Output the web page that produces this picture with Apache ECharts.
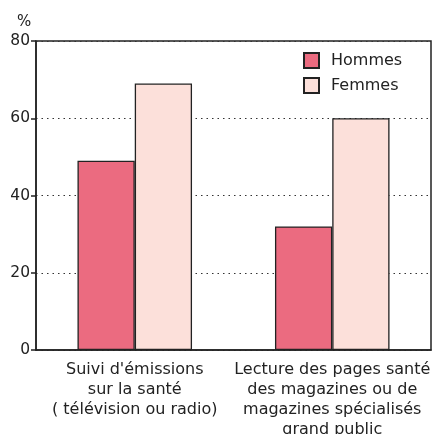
<!DOCTYPE html>
<html>
<head>
<meta charset="utf-8">
<script src="https://cdn.jsdelivr.net/npm/echarts@6/dist/echarts.min.js"></script>
<style>
	html, body { margin: 0; padding: 0; background: #fff; }
	#chart { width: 432px; height: 434px; }
</style>
</head>
<body>
<div id="chart"></div>
<script>
var categories = [
	"Suivi d'émissions\nsur la santé\n( télévision ou radio)",
	"Lecture des pages santé\ndes magazines ou de\nmagazines spécialisés\ngrand public"
];
var seriesNames = ['Hommes', 'Femmes'];
var hommes = [49, 32];
var femmes = [69, 60];
var yTicks = [0, 20, 40, 60, 80];

var colors = ['#eb6b80', '#fce0da'];
var font = 'DejaVu Sans';

var myChart = echarts.init(document.getElementById('chart'));

function barSeries(name, values, color) {
	return {
		name : name,
		type : 'bar',
		data : values,
		barGap : '0%',
		barCategoryGap : '42%',
		itemStyle : {
			color : color,
			borderColor : '#222',
			borderWidth : 1.3
		}
	};
}

var chartOption = {
	animation : false,
	textStyle : { fontFamily : font },
	grid : {
		left : 36, right : 1, top : 41, bottom : 84,
		outerBoundsMode : 'none',
		containLabel : false,
		show : true,
		borderColor : '#222',
		borderWidth : 1.5
	},
	title : {
		text : '%',
		left : 12, top : 10,
		textStyle : { fontSize : 15, fontWeight : 'normal', color : '#222', fontFamily : font }
	},
	legend : {
		orient : 'vertical',
		left : 303, top : 52,
		padding : 0,
		icon : 'rect',
		itemWidth : 15, itemHeight : 15,
		itemGap : 8,
		textStyle : { fontSize : 16, color : '#222', fontFamily : font, padding : [0, 0, 0, 7] },
		data : seriesNames
	},
	xAxis : {
		type : 'category',
		data : categories,
		axisLine : { lineStyle : { color : '#222', width : 1.5 } },
		axisTick : { show : false },
		axisLabel : {
			interval : 0,
			margin : 10,
			fontSize : 16,
			lineHeight : 20,
			color : '#222',
			fontFamily : font
		}
	},
	yAxis : {
		type : 'value',
		min : yTicks[0],
		max : yTicks[yTicks.length - 1],
		interval : 20,
		axisLine : { show : true, lineStyle : { color : '#222', width : 1.5 } },
		axisTick : { show : true, length : 5, lineStyle : { color : '#222', width : 1.5 } },
		axisLabel : { fontSize : 15.5, color : '#222', margin : 6, fontFamily : font },
		splitLine : { show : true, lineStyle : { color : '#333', type : [1.5, 4], width : 1.2 } }
	},
	series : [
		barSeries(seriesNames[0], hommes, colors[0]),
		barSeries(seriesNames[1], femmes, colors[1])
	]
};

myChart.setOption(chartOption);
</script>
</body>
</html>
